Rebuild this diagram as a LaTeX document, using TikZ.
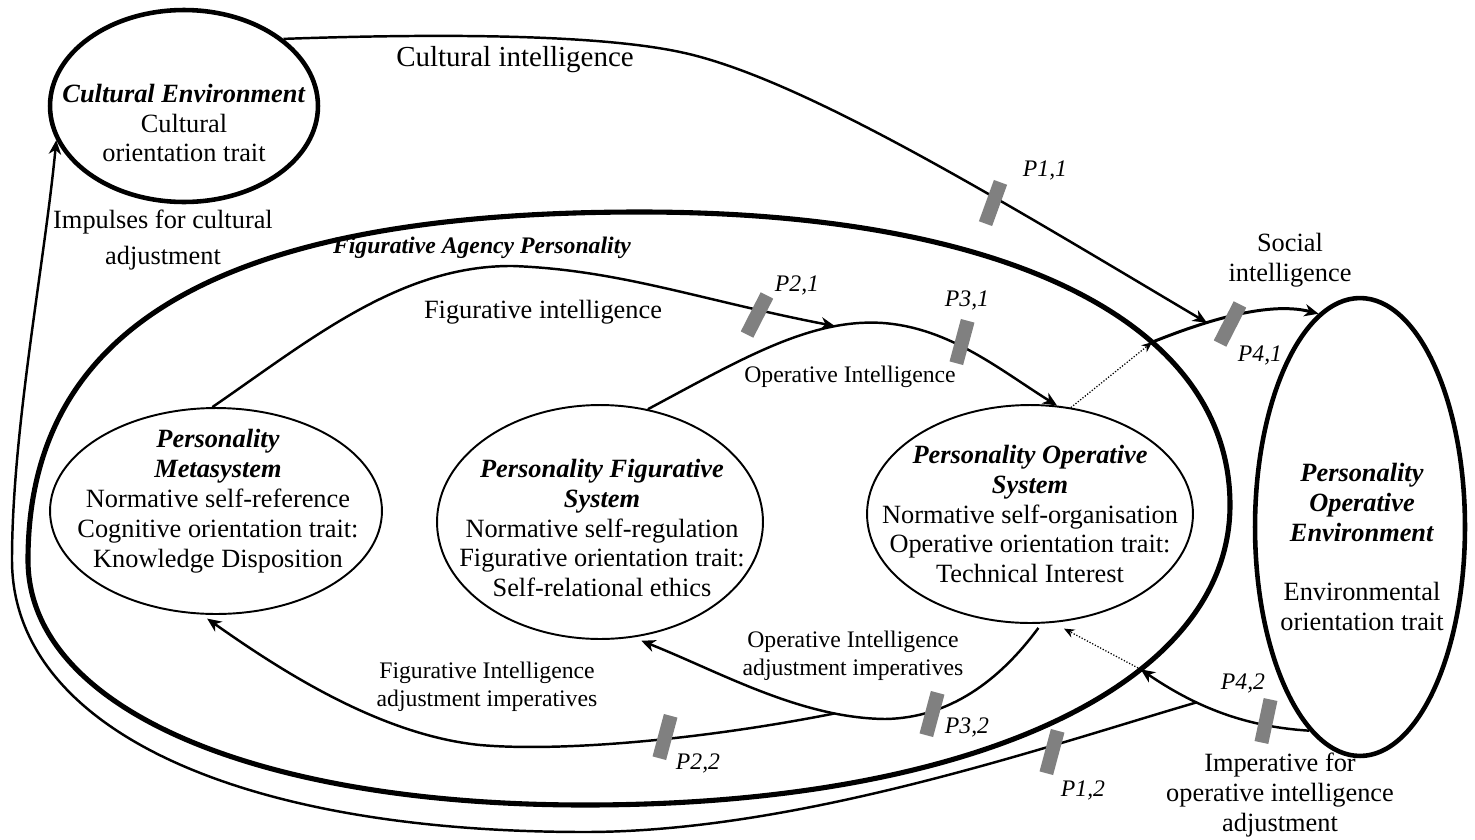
\documentclass[tikz,border=0pt]{standalone}
\usepackage{fontspec}
\setmainfont{Liberation Serif}
\usetikzlibrary{positioning,arrows.meta,shapes.geometric}
\newcommand{\titl}[1]{\textbf{\textit{#1}}}

\begin{document}
\begin{tikzpicture}[x=0.02cm, y=-0.02cm,
      lbl/.style={font=\fontsize{15}{17}\selectfont, align=center, inner sep=0pt},
      slbl/.style={font=\fontsize{13.5}{16}\selectfont, align=center, inner sep=0pt},
      plbl/.style={font=\fontsize{13.5}{16}\selectfont\itshape, inner sep=0pt},
      sysell/.style={draw, ellipse, line width=1.1pt, inner sep=0pt},
      envell/.style={draw, ellipse, line width=2.6pt, inner sep=0pt},
      pbar/.style={rectangle, fill=gray, minimum width=8pt, minimum height=25pt, inner sep=0pt},
      ar/.style={-{Stealth[length=8pt,width=7pt,inset=2.5pt]}, line width=1.4pt},
      dar/.style={-{Stealth[length=6pt,width=5pt,inset=2pt]}, line width=0.7pt, densely dotted},
    ]
  \useasboundingbox (0,0) rectangle (1475,839);

  % environments
  \node[envell, minimum width=5.36cm, minimum height=3.84cm] (cult) at (184,106) {};
  \node[envell, minimum width=4.2cm, minimum height=9.16cm] (poe) at (1360,527) {};
  \node[lbl] (cult-t) at (184,123) {\titl{Cultural Environment}\\Cultural\\orientation trait};
  \node[lbl] (poe-t) at (1362,547) {\titl{Personality}\\\titl{Operative}\\\titl{Environment}\\[17pt]
    Environmental\\orientation trait};

  % figurative agency personality
  \draw[line width=2.9pt] (1230,505) .. controls (1230,324) and (1010,212) .. (640,212)
      coordinate[pos=0.35] (fap-ne)
    .. controls (215,212) and (28,330) .. (28,560)
    .. controls (28,707) and (252,805) .. (585,805)
    .. controls (972,805) and (1230,685) .. (1230,505) coordinate[pos=0.65] (fap-se) -- cycle;
  \node[lbl, font=\fontsize{13.5}{16}\selectfont] (fap-t) at (482,248) {\titl{Figurative Agency Personality}};

  % the three systems
  \node[sysell, minimum width=6.64cm, minimum height=4.12cm] (meta) at (216,511) {};
  \node[sysell, minimum width=6.52cm, minimum height=4.68cm] (pfs) at (600,522) {};
  \node[sysell, minimum width=6.52cm, minimum height=4.36cm] (pos) at (1030,514) {};
  \node[lbl] (meta-t) at (218,501) {\titl{Personality}\\\titl{Metasystem}\\Normative self-reference\\
    Cognitive orientation trait:\\Knowledge Disposition};
  \node[lbl] (pfs-t) at (602,528) {\titl{Personality Figurative}\\\titl{System}\\Normative self-regulation\\
    Figurative orientation trait:\\Self-relational ethics};
  \node[lbl] (pos-t) at (1030,514) {\titl{Personality Operative}\\\titl{System}\\Normative self-organisation\\
    Operative orientation trait:\\Technical Interest};

  % intelligences
  \draw[ar, line width=1.7pt] (fap-ne) .. controls (1195,325) and (1265,300) .. (poe.101)
      coordinate[pos=0.36] (ci-end);
  \draw[ar] (cult.34) .. controls (450,33) and (600,35) .. (680,52)
    .. controls (800,77) and (1000,200) .. (ci-end);
  \draw[dar] (pos.69) -- (fap-ne);
  \draw[ar] (pfs.67) .. controls (740,360) and (810,318) .. (883,323) coordinate[pos=0.78] (fi-end)
    .. controls (950,328) and (1000,370) .. (pos.76);
  \draw[ar] (meta.92) .. controls (310,340) and (400,265) .. (513,266)
    .. controls (620,270) and (700,300) .. (fi-end);

  % adjustment imperatives
  \draw[ar] (poe.-104) .. controls (1250,727) and (1200,710) .. (fap-se) coordinate[pos=0.67] (br42);
  \draw[dar, shorten >=7pt] (fap-se) -- (pos.-78);
  \draw[ar, shorten <=3pt, shorten >=5pt] (pos.-84) .. controls (1000,680) and (950,718) .. (885,719)
    .. controls (800,718) and (720,672) .. (pfs.-74) coordinate[pos=0.2] (br32);
  \draw[ar, shorten >=4pt] (br32) .. controls (700,740) and (560,752) .. (480,745)
    .. controls (380,735) and (280,670) .. (meta.-98);
  \draw[ar] (br42) .. controls (1050,745) and (800,832) .. (585,832)
    .. controls (230,832) and (12,725) .. (12,560)
    .. controls (12,430) and (45,260) .. (cult.195);

  % propositions
  \node[pbar, rotate=-20] (b11) at (993,203) {};
  \node[pbar, rotate=-27] (b21) at (757,315) {};
  \node[pbar, rotate=-15] (b31) at (962,342) {};
  \node[pbar, rotate=-27] (b41) at (1230,324) {};
  \node[pbar, rotate=-12] (b42) at (1266,721) {};
  \node[pbar, rotate=-15] (b32) at (932,714) {};
  \node[pbar, rotate=-15] (b22) at (665,737) {};
  \node[pbar, rotate=-15] (b12) at (1052,752) {};
  \node[plbl] (p11) at (1045,170) {P1,1};
  \node[plbl] (p21) at (797,285) {P2,1};
  \node[plbl] (p31) at (967,300) {P3,1};
  \node[plbl] (p41) at (1260,355) {P4,1};
  \node[plbl] (p42) at (1243,683) {P4,2};
  \node[plbl] (p32) at (967,727) {P3,2};
  \node[plbl] (p22) at (698,763) {P2,2};
  \node[plbl] (p12) at (1083,790) {P1,2};

  % connector labels
  \node[lbl, font=\fontsize{16.5}{19}\selectfont] (ci-l) at (515,60) {Cultural intelligence};
  \node[lbl] (imp-l) at (163,240) {Impulses for cultural\\[3pt]adjustment};
  \node[lbl] (si-l) at (1290,260) {Social\\intelligence};
  \node[lbl] (fi-l) at (543,312) {Figurative intelligence};
  \node[slbl] (oi-l) at (850,377) {Operative Intelligence};
  \node[slbl] (oia-l) at (853,656) {Operative Intelligence\\adjustment imperatives};
  \node[slbl] (fia-l) at (487,687) {Figurative Intelligence\\adjustment imperatives};
  \node[lbl] (ioa-l) at (1280,795) {Imperative for\\operative intelligence\\adjustment};
\end{tikzpicture}
\end{document}
